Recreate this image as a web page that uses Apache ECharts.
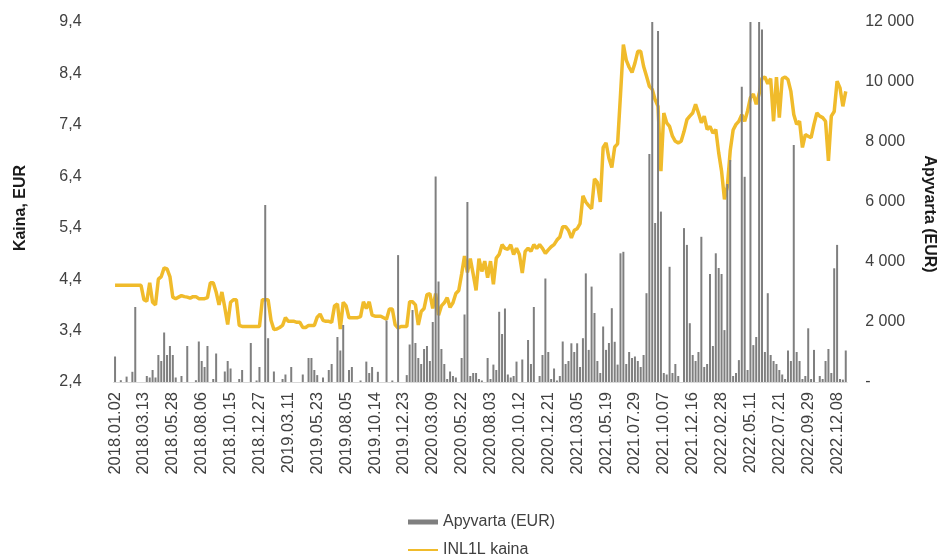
<!DOCTYPE html>
<html><head><meta charset="utf-8">
<script src="https://cdn.jsdelivr.net/npm/echarts@6/dist/echarts.min.js"></script>
<style>html,body{margin:0;padding:0;background:#fff}#c{width:938px;height:556px}</style>
</head><body><div id="c"></div>
<script>
// x-axis tick labels (one every 50 trading days)
const tickLabels = ['2018.01.02','2018.03.13','2018.05.28','2018.08.06','2018.10.15','2018.12.27','2019.03.11','2019.05.23','2019.08.05','2019.10.14','2019.12.23','2020.03.09','2020.05.22','2020.08.03','2020.10.12','2020.12.21','2021.03.05','2021.05.19','2021.07.29','2021.10.07','2021.12.16','2022.02.28','2022.05.11','2022.07.21','2022.09.29','2022.12.08'];

// INL1L closing price (EUR), sampled about every 5 trading days
const price = [
4.28,4.28,4.28,4.28,4.28,4.28,4.28,4.28,4.28,4.28,
4.0,3.97,4.33,3.95,3.9,4.4,4.45,4.62,4.6,4.45,
4.05,4.02,4.05,4.08,4.06,4.05,4.03,4.06,4.06,4.02,
4.02,4.02,4.04,4.33,4.33,4.15,3.9,4.15,3.85,3.52,
3.95,4.0,4.0,3.5,3.48,3.48,3.48,3.48,3.48,3.48,
3.48,4.0,4.0,4.0,3.6,3.42,3.43,3.46,3.5,3.65,
3.58,3.58,3.58,3.56,3.56,3.46,3.46,3.5,3.5,3.5,
3.66,3.72,3.6,3.58,3.58,3.56,3.88,3.92,3.43,3.95,
3.88,3.65,3.65,3.65,3.65,3.67,3.96,3.83,3.96,3.7,
3.68,3.68,3.68,3.65,3.62,3.82,3.82,3.51,3.45,3.48,
3.48,3.48,3.96,3.96,3.9,3.51,3.77,3.83,4.1,4.12,
3.83,4.12,3.7,3.88,3.94,4.04,3.85,3.94,4.12,4.18,
4.5,4.85,4.53,4.8,4.5,4.18,4.8,4.55,4.75,4.43,
4.75,4.3,4.81,4.88,5.07,5.0,4.98,5.07,4.88,5.0,
4.88,4.52,4.94,5.0,4.94,5.07,5.0,5.07,5.0,4.9,
4.97,5.03,5.07,5.16,5.22,5.42,5.42,5.35,5.2,5.35,
5.38,5.48,6.02,5.9,5.83,5.77,6.35,6.28,5.9,6.96,
7.05,6.75,6.57,6.97,7.03,7.98,8.96,8.66,8.52,8.42,
8.6,8.83,8.83,8.54,8.35,8.15,8.09,7.89,7.76,6.5,
7.63,7.44,7.37,7.18,7.08,7.05,7.08,7.27,7.5,7.57,
7.63,7.8,7.63,7.44,7.57,7.31,7.37,7.24,7.31,6.86,
6.5,5.95,6.2,6.9,7.3,7.41,7.47,7.6,7.47,7.67,
7.93,8.0,7.8,8.0,8.31,8.33,8.2,8.3,7.47,8.33,
7.54,8.3,8.33,8.28,8.05,7.6,7.41,7.47,6.96,7.21,
7.18,7.15,7.41,7.63,7.57,7.54,7.47,6.7,7.57,7.66,
8.25,8.12,7.76,8.05];

// Turnover (EUR), same sampling
const turnover = [
850,0,60,0,180,0,340,2500,0,0,
0,200,150,400,150,900,700,1650,900,1200,
900,150,0,200,0,1200,0,0,60,1350,
700,500,1200,0,100,950,0,0,350,700,
450,0,0,100,400,0,0,1300,0,50,
500,0,5900,1460,0,350,0,0,100,250,
0,500,0,0,0,250,0,800,800,400,
230,0,150,0,400,600,0,1500,1050,1900,
0,400,500,0,0,50,0,680,300,500,
0,340,0,0,2050,0,50,0,4230,0,
0,230,1250,2400,1300,800,600,1100,1200,700,
2000,6850,3350,1100,600,100,350,200,150,0,
800,2250,6000,200,300,300,100,50,0,800,
100,580,400,2340,1600,2450,250,150,200,680,
0,750,0,1400,600,2500,0,200,900,3450,
1000,100,450,50,200,1350,600,700,1290,1000,
1290,500,1460,3620,1070,3180,2300,700,300,1850,
1070,1300,2460,1340,580,4290,4340,600,1000,800,
850,700,500,900,2960,7600,12000,5300,11700,5680,
300,250,3840,300,600,200,0,5130,4570,1960,
900,700,1000,4840,500,600,3600,1200,4290,3800,
3600,1730,6600,7400,200,300,730,9840,6840,400,
12000,1230,1500,12000,11750,1000,2960,900,700,600,
400,250,100,1050,700,7900,1000,700,100,200,
1790,100,1070,0,200,100,700,1100,300,3790,
4570,100,80,1050];

const categories = [];
for (let i = 0; i < price.length; i++) {
  const k = Math.floor(i / 10), j = i % 10;
  categories.push(j === 0 ? tickLabels[k] : tickLabels[k] + ' +' + (j * 5));
}

const FONT = 'Liberation Sans, Arial, sans-serif';
const legendText = { fontSize: 16, color: '#404040', fontFamily: FONT };
const chart = echarts.init(document.getElementById('c'));
chart.setOption({
  animation: false,
  backgroundColor: '#ffffff',
  grid: { left: 113.6, right: 90.8, top: 22, bottom: 174, outerBoundsMode: 'none', containLabel: false },
  legend: [
    { left: 408, top: 514, padding: 0, itemWidth: 30, itemHeight: 5, textStyle: legendText,
      data: [{ name: 'Apyvarta (EUR)', icon: 'rect' }] },
    { left: 408, top: 542, padding: 0, itemWidth: 30, itemHeight: 2, textStyle: legendText,
      data: [{ name: 'INL1L kaina', icon: 'rect' }] }
  ],
  xAxis: {
    type: 'category', data: categories, boundaryGap: true,
    axisLine: { lineStyle: { color: '#d9d9d9', width: 1 } },
    axisTick: { show: false },
    axisLabel: { interval: 9, rotate: 90, fontSize: 16.5, color: '#404040', fontFamily: FONT, margin: 10 }
  },
  yAxis: [
    {
      type: 'value', position: 'left', min: 2.4, max: 9.4, interval: 1,
      splitLine: { show: false }, axisLine: { show: false }, axisTick: { show: false },
      axisLabel: { fontSize: 16, color: '#404040', fontFamily: FONT, margin: 32,
        formatter: v => Number(v).toFixed(1).replace('.', ',') },
      name: 'Kaina, EUR', nameLocation: 'middle', nameGap: 85, nameMoveOverlap: false,
      nameTextStyle: { fontSize: 16, fontWeight: 'bold', color: '#1a1a1a', fontFamily: FONT, padding: [0, 12, 0, 0] }
    },
    {
      type: 'value', position: 'right', min: 0, max: 12000, interval: 2000,
      splitLine: { show: false }, axisLine: { show: false }, axisTick: { show: false },
      axisLabel: { fontSize: 16, color: '#404040', fontFamily: FONT, margin: 18,
        formatter: v => v === 0 ? '-' : String(v).replace(/\B(?=(\d{3})+(?!\d))/g, ' ') },
      name: 'Apyvarta (EUR)', nameLocation: 'middle', nameGap: 74, nameRotate: -90, nameMoveOverlap: false,
      nameTextStyle: { fontSize: 16, fontWeight: 'bold', color: '#1a1a1a', fontFamily: FONT, padding: [0, 0, 0, 24] }
    }
  ],
  series: [
    {
      name: 'Apyvarta (EUR)', type: 'bar', yAxisIndex: 1, data: turnover,
      barWidth: 2, itemStyle: { color: '#7f7f7f' }, z: 3
    },
    {
      name: 'INL1L kaina', type: 'line', yAxisIndex: 0, data: price,
      symbol: 'none', lineStyle: { color: '#F0BB2B', width: 3.5 },
      itemStyle: { color: '#F0BB2B' }, z: 2
    }
  ]
});
</script></body></html>
